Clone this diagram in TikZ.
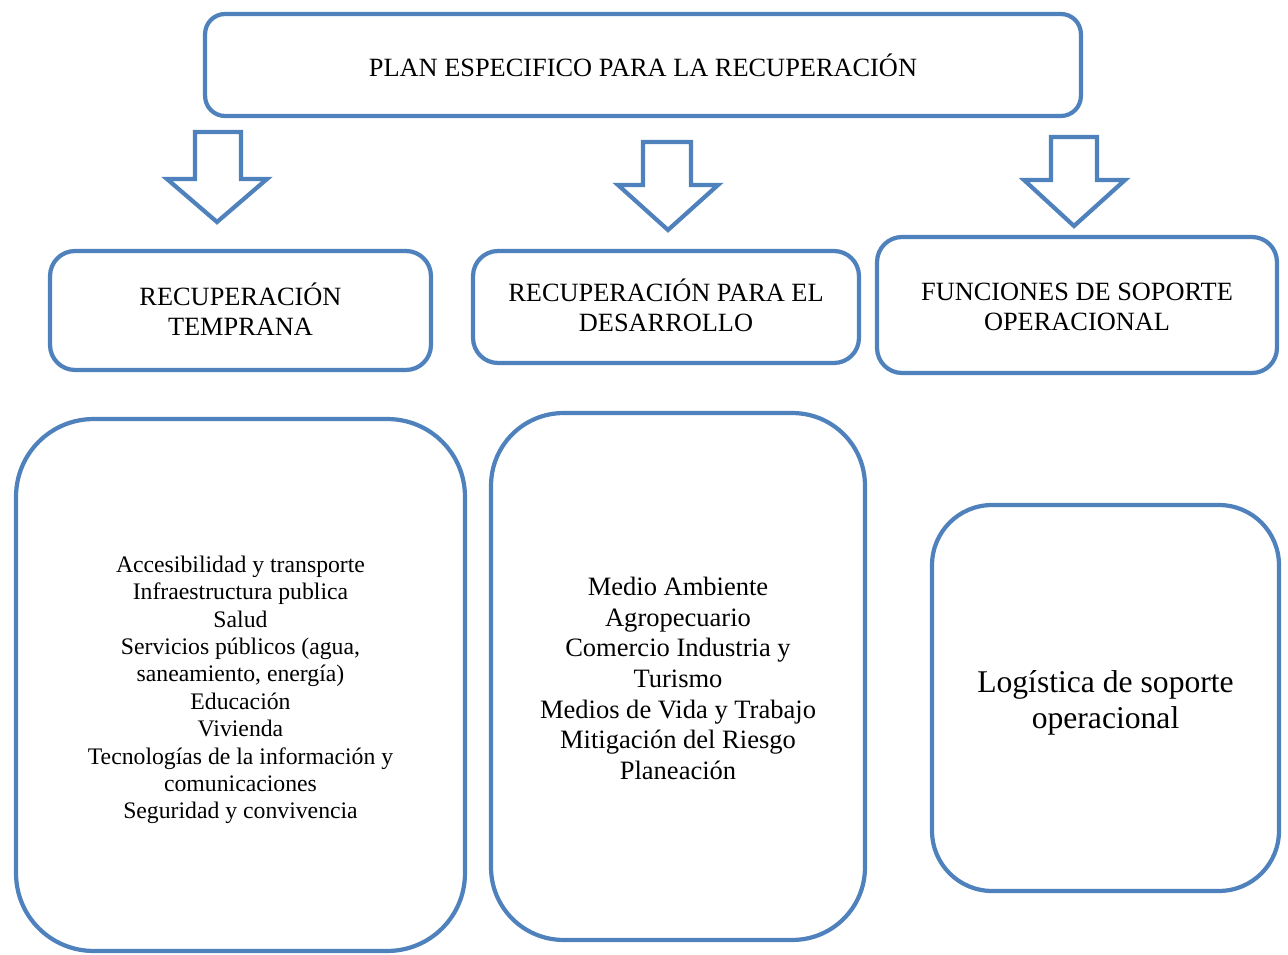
\documentclass[tikz,border=0pt]{standalone}
\usepackage{fontspec}
\setmainfont{Liberation Serif}
\definecolor{boxblue}{HTML}{4F81BD}
\begin{document}
\begin{tikzpicture}[x=0.02cm,y=-0.02cm,
  hdrbox/.style={draw=boxblue,line width=2.4pt,rectangle,rounded corners=0.5cm,align=center,inner sep=0pt,font=\fontsize{15}{17}\selectfont},
  bigbox/.style={draw=boxblue,line width=2.4pt,rectangle,inner sep=0pt},
  boxtext/.style={align=center,inner sep=0pt},
  blockarrow/.style={draw=boxblue,line width=2.4pt,fill=white,line join=miter}]
\useasboundingbox (0,0) rectangle (1288,955);
% title
\node[hdrbox,rounded corners=0.4cm,minimum width=17.52cm,minimum height=2.04cm] (title) at (643,65) {PLAN ESPECIFICO PARA LA RECUPERACIÓN};
% block arrows
\draw[blockarrow] (195,132) -- (241,132) -- (241,179) -- (267,179) -- (217,222) -- (167,179) -- (195,179) -- cycle;
\draw[blockarrow] (643,142) -- (691,142) -- (691,185) -- (718,185) -- (668,230) -- (618,185) -- (643,185) -- cycle;
\draw[blockarrow] (1051,137) -- (1097,137) -- (1097,180) -- (1125,180) -- (1074,226) -- (1024,180) -- (1051,180) -- cycle;
% headers
\node[hdrbox,minimum width=7.62cm,minimum height=2.38cm] (rt) at (240.5,310.5) {};
\node[boxtext,font=\fontsize{15}{17}\selectfont] (rttext) at ([yshift=0.6pt]rt.center) {RECUPERACIÓN\\TEMPRANA};
\node[hdrbox,minimum width=7.72cm,minimum height=2.24cm] (rd) at (666,307) {};
\node[boxtext,font=\fontsize{15}{17}\selectfont] (rdtext) at ([yshift=1.1pt]rd.center) {RECUPERACIÓN PARA EL\\DESARROLLO};
\node[hdrbox,minimum width=8.0cm,minimum height=2.72cm] (fs) at (1077,305) {};
\node[boxtext,font=\fontsize{15}{17}\selectfont] (fstext) at ([yshift=-1.1pt]fs.center) {FUNCIONES DE SOPORTE\\OPERACIONAL};
% big boxes
\node[bigbox,rounded corners=1.55cm,minimum width=8.98cm,minimum height=10.64cm] (lb) at (240.5,685) {};
\node[boxtext,font=\fontsize{13.5}{15.6}\selectfont] (lbtext) at ([yshift=-2.8pt]lb.center) {Accesibilidad y transporte\\Infraestructura publica\\Salud\\Servicios públicos (agua,\\saneamiento, energía)\\Educación\\Vivienda\\Tecnologías de la información y\\comunicaciones\\Seguridad y convivencia};
\node[bigbox,rounded corners=1.45cm,minimum width=7.48cm,minimum height=10.54cm] (mb) at (678,676.5) {};
\node[boxtext,font=\fontsize{15.1}{17.4}\selectfont] (mbtext) at ([yshift=-1.1pt]mb.center) {Medio Ambiente\\Agropecuario\\Comercio Industria y\\Turismo\\Medios de Vida y Trabajo\\Mitigación del Riesgo\\Planeación};
\node[bigbox,rounded corners=1.2cm,minimum width=6.94cm,minimum height=7.72cm] (rb) at (1105.5,698) {};
\node[boxtext,font=\fontsize{18}{21}\selectfont] (rbtext) at ([yshift=-2.8pt]rb.center) {Logística de soporte\\operacional};
\end{tikzpicture}
\end{document}
